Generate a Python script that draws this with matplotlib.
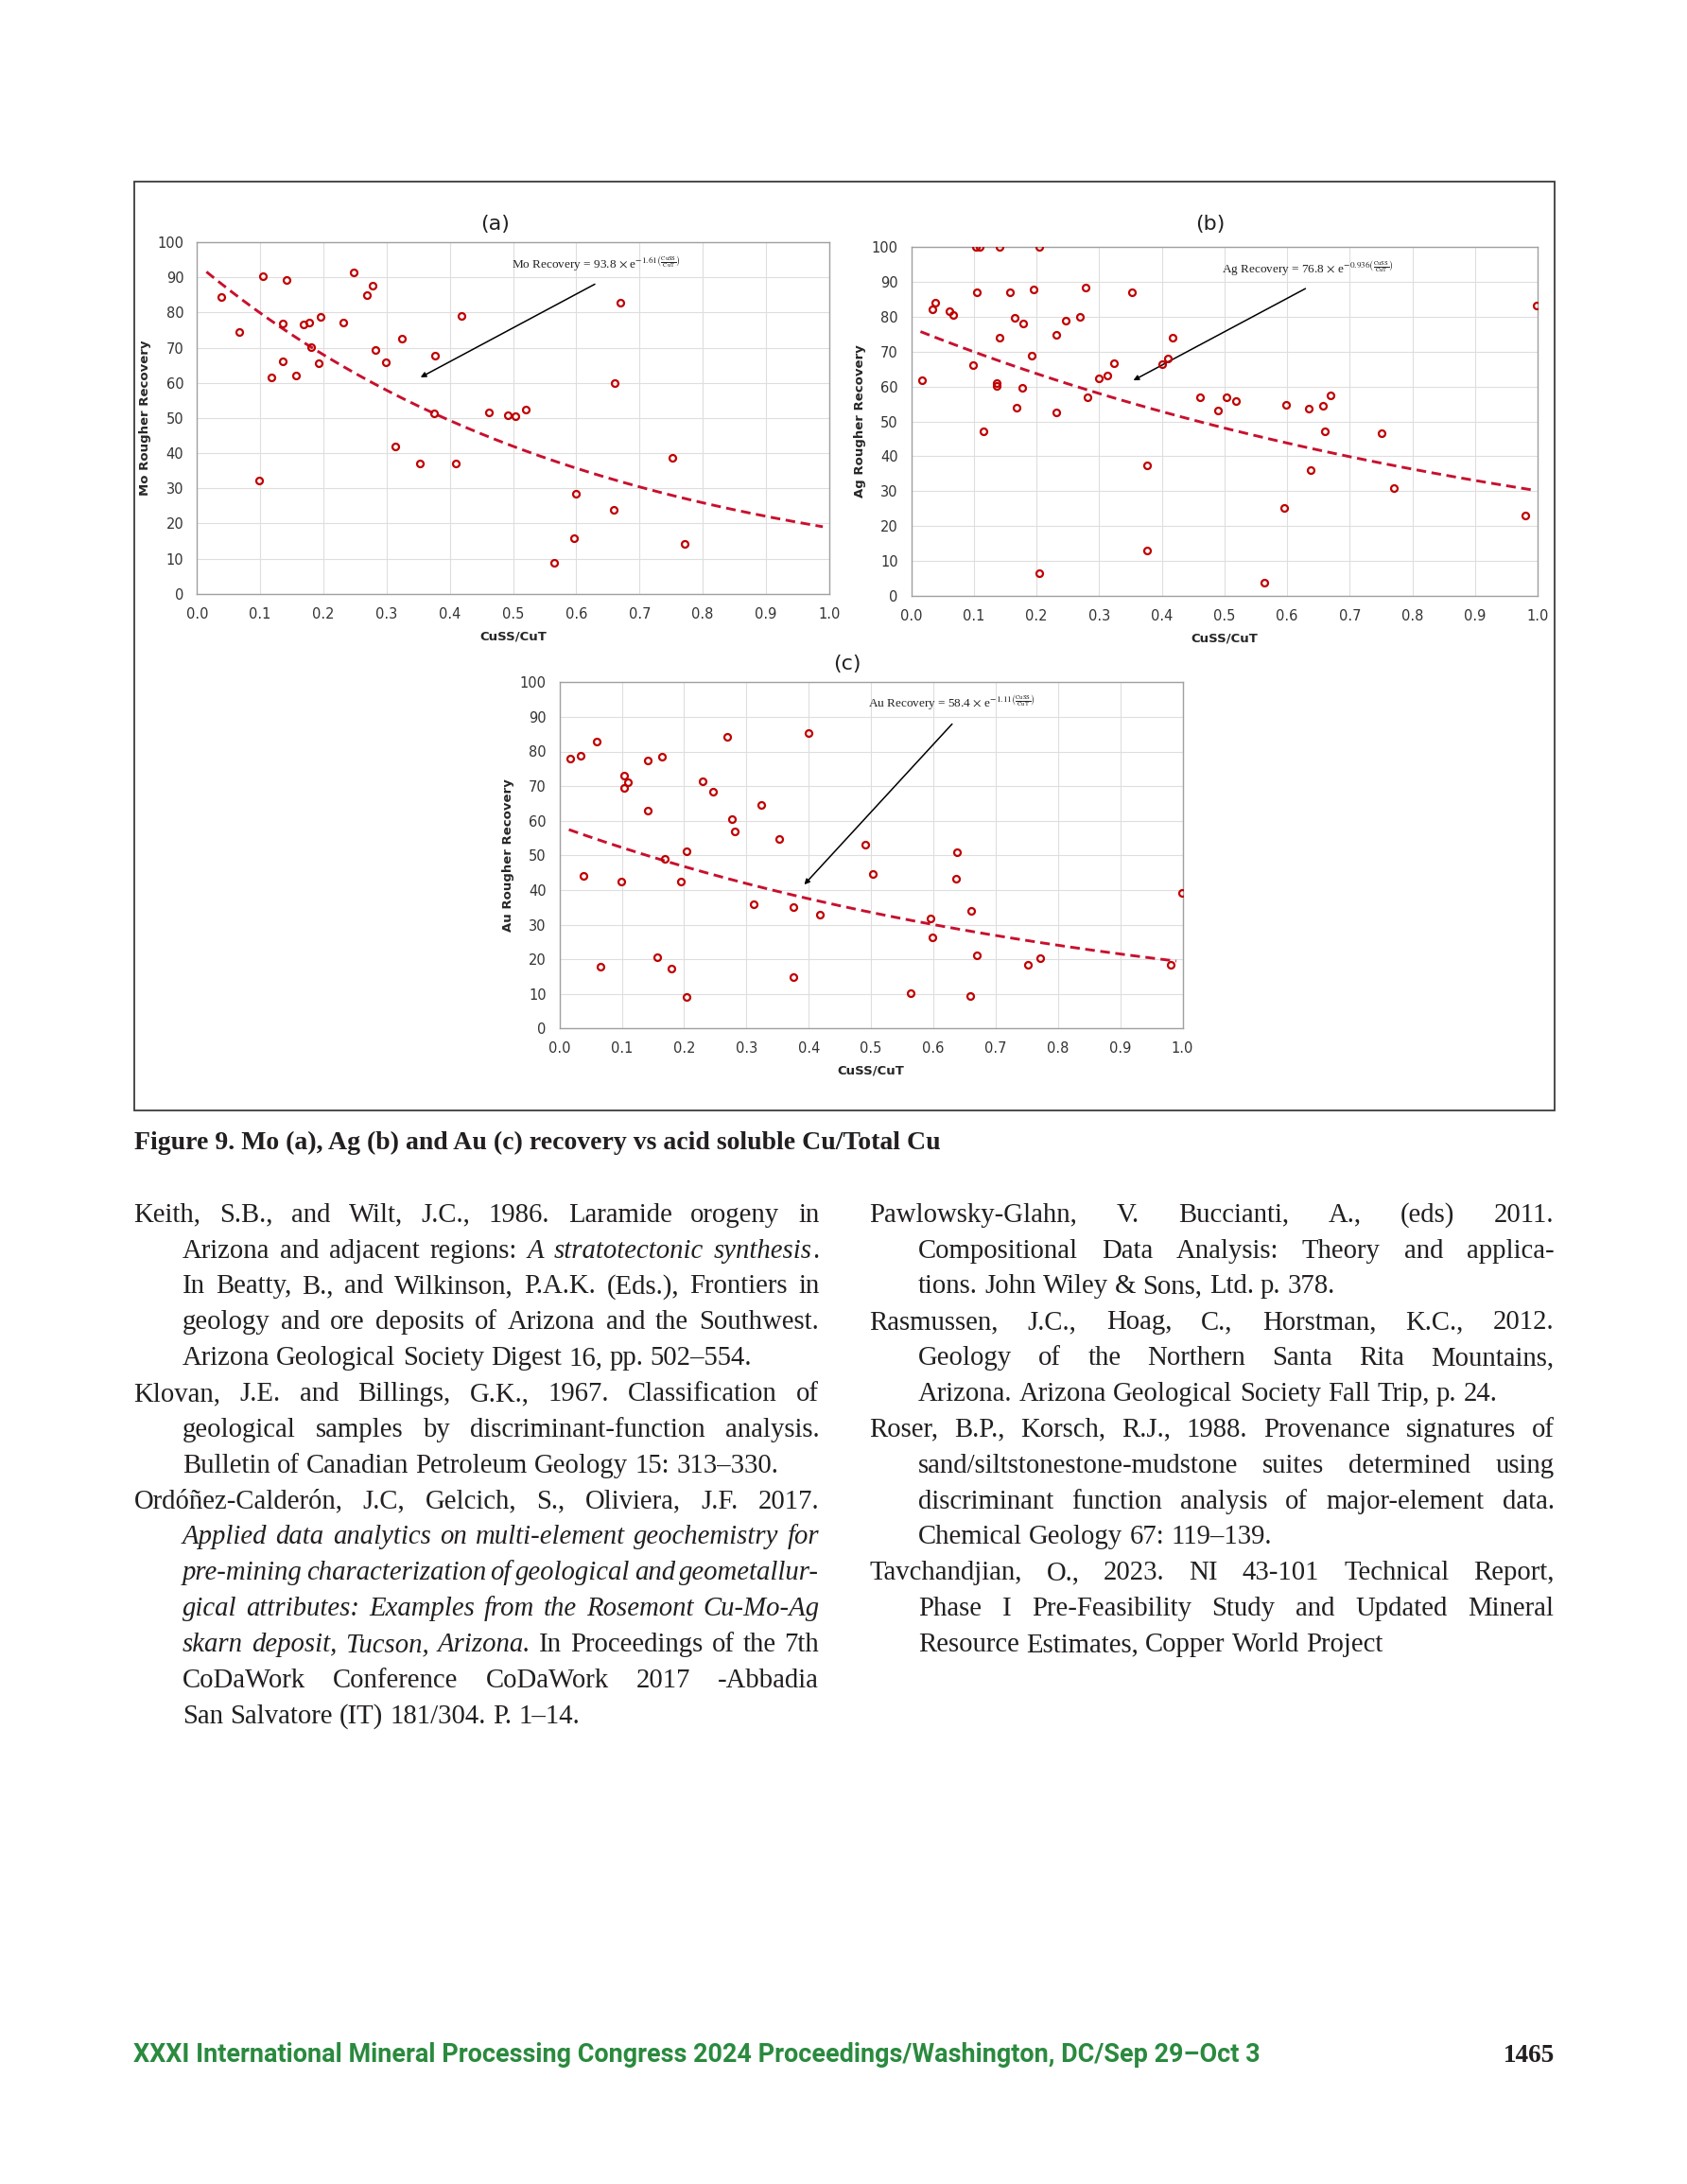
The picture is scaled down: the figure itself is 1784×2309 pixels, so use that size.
import matplotlib
matplotlib.use("Agg")
import matplotlib.pyplot as plt
import numpy as np
from matplotlib.patches import Rectangle

plt.rcParams["mathtext.fontset"] = "stix"
plt.rcParams["font.family"] = ["DejaVu Sans"]

W, H = 1784, 2309
SERIF = ["Liberation Serif", "DejaVu Serif"]

# ---------------- data ----------------
mo_x = [0.038, 0.067, 0.099, 0.104, 0.117, 0.136, 0.136, 0.141, 0.157, 0.168, 0.178, 0.180, 0.193,
        0.196, 0.231, 0.248, 0.269, 0.278, 0.283, 0.299, 0.313, 0.324, 0.352, 0.376, 0.375, 0.409,
        0.418, 0.462, 0.491, 0.504, 0.520, 0.565, 0.596, 0.599, 0.659, 0.661, 0.670, 0.752, 0.772]
mo_y = [84.3, 74.5, 32.1, 90.3, 61.6, 76.8, 66.0, 89.2, 62.1, 76.6, 77.2, 70.1, 65.6,
        78.7, 77.1, 91.4, 84.9, 87.5, 69.4, 65.9, 41.8, 72.5, 37.0, 67.7, 51.3, 37.1,
        79.1, 51.7, 50.7, 50.5, 52.4, 8.8, 15.7, 28.4, 23.9, 59.9, 82.8, 38.6, 14.3]

ag_x = [0.017, 0.034, 0.039, 0.061, 0.067, 0.099, 0.104, 0.110, 0.105, 0.116, 0.136, 0.136, 0.141,
        0.141, 0.157, 0.165, 0.168, 0.177, 0.179, 0.193, 0.196, 0.205, 0.205, 0.231, 0.231, 0.247,
        0.269, 0.278, 0.282, 0.299, 0.313, 0.324, 0.352, 0.376, 0.376, 0.400, 0.410, 0.418, 0.461,
        0.490, 0.503, 0.519, 0.564, 0.595, 0.599, 0.635, 0.638, 0.658, 0.660, 0.669, 0.751, 0.771,
        0.980, 0.999]
ag_y = [61.7, 82.0, 83.9, 81.5, 80.4, 66.2, 100.0, 100.0, 87.1, 47.2, 61.0, 60.1, 100.0,
        74.0, 87.0, 79.8, 53.8, 59.5, 78.1, 68.8, 87.8, 100.0, 6.5, 74.9, 52.5, 78.9,
        79.9, 88.3, 57.0, 62.4, 63.2, 66.8, 87.0, 13.0, 37.5, 66.4, 68.1, 73.9, 57.0,
        53.1, 57.0, 55.8, 3.8, 25.2, 54.8, 53.7, 36.1, 54.6, 47.1, 57.4, 46.5, 30.9,
        22.9, 83.3]

au_x = [0.017, 0.034, 0.038, 0.060, 0.066, 0.099, 0.104, 0.109, 0.104, 0.141, 0.141, 0.157, 0.164,
        0.169, 0.179, 0.195, 0.204, 0.204, 0.230, 0.246, 0.269, 0.277, 0.282, 0.312, 0.324, 0.352,
        0.375, 0.376, 0.399, 0.418, 0.490, 0.503, 0.564, 0.595, 0.599, 0.636, 0.638, 0.659, 0.660,
        0.670, 0.752, 0.772, 0.981, 0.999]
au_y = [77.9, 78.7, 44.1, 82.8, 17.9, 42.4, 73.1, 71.2, 69.5, 62.8, 77.3, 20.5, 78.6,
        49.0, 17.2, 42.4, 51.1, 9.2, 71.3, 68.4, 84.3, 60.6, 57.0, 36.0, 64.6, 54.7,
        35.1, 14.9, 85.2, 32.9, 53.2, 44.7, 10.2, 31.8, 26.3, 43.3, 50.9, 9.3, 33.9,
        21.1, 18.3, 20.3, 18.4, 39.1]

# fitted equations printed on the chart: Recovery = A * exp(-B * CuSS/CuT)
fit_a = [93.8, 76.8, 58.4]
fit_b = [1.61, 0.936, 1.11]
metals = ["Mo", "Ag", "Au"]
panel_tags = ["(a)", "(b)", "(c)"]
x_ticks = [0.0, 0.1, 0.2, 0.3, 0.4, 0.5, 0.6, 0.7, 0.8, 0.9, 1.0]
y_ticks = [0, 10, 20, 30, 40, 50, 60, 70, 80, 90, 100]

caption = "Figure 9. Mo (a), Ag (b) and Au (c) recovery vs acid soluble Cu/Total Cu"
left_refs = [
    ["Keith, S.B., and Wilt, J.C., 1986. Laramide orogeny in",
     "Arizona and adjacent regions: *A stratotectonic synthesis*.",
     "In Beatty, B., and Wilkinson, P.A.K. (Eds.), Frontiers in",
     "geology and ore deposits of Arizona and the Southwest.",
     "Arizona Geological Society Digest 16, pp. 502–554."],
    ["Klovan, J.E. and Billings, G.K., 1967. Classification of",
     "geological samples by discriminant-function analysis.",
     "Bulletin of Canadian Petroleum Geology 15: 313–330."],
    ["Ordóñez-Calderón, J.C, Gelcich, S., Oliviera, J.F. 2017.",
     "*Applied data analytics on multi-element geochemistry for",
     "pre-mining characterization of geological and geometallur-",
     "gical attributes: Examples from the Rosemont Cu-Mo-Ag",
     "skarn deposit, Tucson, Arizona.* In Proceedings of the 7th",
     "CoDaWork Conference CoDaWork 2017 -Abbadia",
     "San Salvatore (IT) 181/304. P. 1–14."],
]
right_refs = [
    ["Pawlowsky-Glahn, V. Buccianti, A., (eds) 2011.",
     "Compositional Data Analysis: Theory and applica-",
     "tions. John Wiley & Sons, Ltd. p. 378."],
    ["Rasmussen, J.C., Hoag, C., Horstman, K.C., 2012.",
     "Geology of the Northern Santa Rita Mountains,",
     "Arizona. Arizona Geological Society Fall Trip, p. 24."],
    ["Roser, B.P., Korsch, R.J., 1988. Provenance signatures of",
     "sand/siltstonestone-mudstone suites determined using",
     "discriminant function analysis of major-element data.",
     "Chemical Geology 67: 119–139."],
    ["Tavchandjian, O., 2023. NI 43-101 Technical Report,",
     "Phase I Pre-Feasibility Study and Updated Mineral",
     "Resource Estimates, Copper World Project"],
]
footer = "XXXI International Mineral Processing Congress 2024 Proceedings/Washington, DC/Sep 29–Oct 3"
page_no = "1465"

# ---------------- figure ----------------
fig = plt.figure(figsize=(W / 100, H / 100), dpi=100, facecolor="white")
renderer = fig.canvas.get_renderer()


def fx(x):
    return x / W


def fy(y):
    return 1 - y / H


fig.add_artist(Rectangle((fx(141.5), fy(1174)), (1643.5 - 141.5) / W, (1174 - 192) / H,
                         transform=fig.transFigure, fill=False, ec="#3c3c3c", lw=1.3))

# axes boxes in pixels: left, top, right, bottom
boxes = [(208.3, 256.0, 876.8, 627.7), (963.5, 261.0, 1626.1, 630.0), (591.7, 721.3, 1250.5, 1087.3)]
title_pos = [(0.471, 1.052), (0.478, 1.066), (0.461, 1.054)]
eq_pos = [(0.632, 93.7), (0.632, 93.7), (0.629, 94.0)]
arrows = [((0.633, 88.4), (0.350, 61.2)), ((0.633, 88.4), (0.351, 61.4)), ((0.633, 88.5), (0.390, 41.0))]
series = [(mo_x, mo_y), (ag_x, ag_y), (au_x, au_y)]

for i in range(3):
    l, t, r, b = boxes[i]
    ax = fig.add_axes([fx(l), fy(b), (r - l) / W, (b - t) / H])
    ax.set_xlim(0, 1)
    ax.set_ylim(0, 100)
    ax.set_xticks(x_ticks)
    ax.set_xticklabels([f"{v:.1f}" for v in x_ticks])
    ax.set_yticks(y_ticks)
    ax.grid(color="#dedede", lw=0.8)
    ax.set_axisbelow(True)
    ax.tick_params(length=0, labelsize=10.5, labelcolor="#333333")
    ax.tick_params(axis="x", pad=10)
    ax.tick_params(axis="y", pad=10)
    for s in ax.spines.values():
        s.set_color("#a0a0a0")
        s.set_linewidth(1.0)

    xs, ys = series[i]
    ax.plot(xs, ys, "o", mfc="none", mec="#c00000", ms=5.0, mew=1.6, zorder=4)
    xf = np.linspace(0.015, 0.99, 200)
    ax.plot(xf, fit_a[i] * np.exp(-fit_b[i] * xf), ls=(0, (3.5, 2.0)), color="#c8102e", lw=2.1, zorder=3)

    (x0, y0), (x1, y1) = arrows[i]
    ax.annotate("", xy=(x1, y1), xytext=(x0, y0),
                arrowprops=dict(arrowstyle="-|>", color="black", lw=1.1, mutation_scale=8))
    eq = (f"{metals[i]} Recovery = {fit_a[i]} $\\times$ e$^{{-{fit_b[i]}"
          r"\left(\frac{\mathrm{CuSS}}{\mathrm{CuT}}\right)}$")
    ax.text(eq_pos[i][0], eq_pos[i][1], eq, ha="center", va="center", fontsize=9.5,
            family=SERIF, color="#222222")

    ax.text(title_pos[i][0], title_pos[i][1], panel_tags[i], transform=ax.transAxes,
            ha="center", va="center", fontsize=16, color="#222222")
    ax.set_xlabel("CuSS/CuT", fontsize=9.5, fontweight="bold", color="#262626")
    ax.set_ylabel(f"{metals[i]} Rougher Recovery", fontsize=9.5, fontweight="bold", color="#262626")
    ax.xaxis.set_label_coords(0.5, -0.105)
    ax.yaxis.set_label_coords(-0.072, 0.5)


# ---------------- text blocks ----------------
_cache = {}


def text_w(s, fs, italic=False, weight="normal", family=SERIF):
    key = (s, fs, italic, weight, tuple(family))
    if key not in _cache:
        t = fig.text(0, 0, s, fontsize=fs, family=family, style="italic" if italic else "normal",
                     fontweight=weight)
        _cache[key] = t.get_window_extent(renderer).width
        t.remove()
    return _cache[key]


def split_words(line, state):
    words = []
    for w in line.split(" "):
        pieces = []
        for k, chunk in enumerate(w.split("*")):
            if k > 0:
                state = not state
            if chunk:
                pieces.append((chunk, state))
        words.append(pieces)
    return words, state


def layout(refs, x0, indent, x1, fs, draw=True):
    worst = 0
    space = text_w("a a", fs) - text_w("aa", fs)
    row = 0
    ital = False
    for para in refs:
        for j, line in enumerate(para):
            words, ital = split_words(line, ital)
            start = x0 if j == 0 else indent
            widths = [sum(text_w(p, fs, it) for p, it in wd) for wd in words]
            natural = sum(widths) + 0.55 * space * (len(words) - 1)
            last = j == len(para) - 1
            if not last:
                worst = max(worst, natural / (x1 - start))
            if draw:
                gap = space if last else (x1 - start - sum(widths)) / (len(words) - 1)
                x = start
                base = 1291.7 + row * 37.86
                for wd, wdw in zip(words, widths):
                    xx = x
                    for p, it in wd:
                        fig.text(fx(xx), fy(base), p, fontsize=fs, family=SERIF,
                                 style="italic" if it else "normal", va="baseline", ha="left",
                                 color="#231f20")
                        xx += text_w(p, fs, it)
                    x += wdw + gap
            row += 1
    return worst


fs_body = 22.0
ratio = max(layout(left_refs, 141.5, 192.7, 866.2, fs_body, draw=False),
            layout(right_refs, 919.3, 970.8, 1643.5, fs_body, draw=False))
if ratio > 1:
    fs_body = fs_body / ratio * 0.995
layout(left_refs, 141.5, 192.7, 866.2, fs_body)
layout(right_refs, 919.3, 970.8, 1643.5, fs_body)

# caption, fitted to its printed width
fs_cap = 18.0
fs_cap = fs_cap * 851 / text_w(caption, fs_cap, weight="bold")
fig.text(fx(141.5), fy(1215), caption, fontsize=fs_cap, family=SERIF, fontweight="bold",
         va="baseline", ha="left", color="#231f20")

# footer
SANS = ["Roboto", "DejaVu Sans"]
fs_foot = 17.5
fs_foot = fs_foot * 1190 / text_w(footer, fs_foot, weight="bold", family=SANS)
fig.text(fx(141), fy(2179.5), footer, fontsize=fs_foot, family=SANS, fontweight="bold",
         va="baseline", ha="left", color="#2a8a3e")
fig.text(fx(1644), fy(2180), page_no, fontsize=19.5, family=SERIF, fontweight="bold",
         va="baseline", ha="right", color="#231f20")

fig.savefig("out.png", dpi=100, facecolor="white")
